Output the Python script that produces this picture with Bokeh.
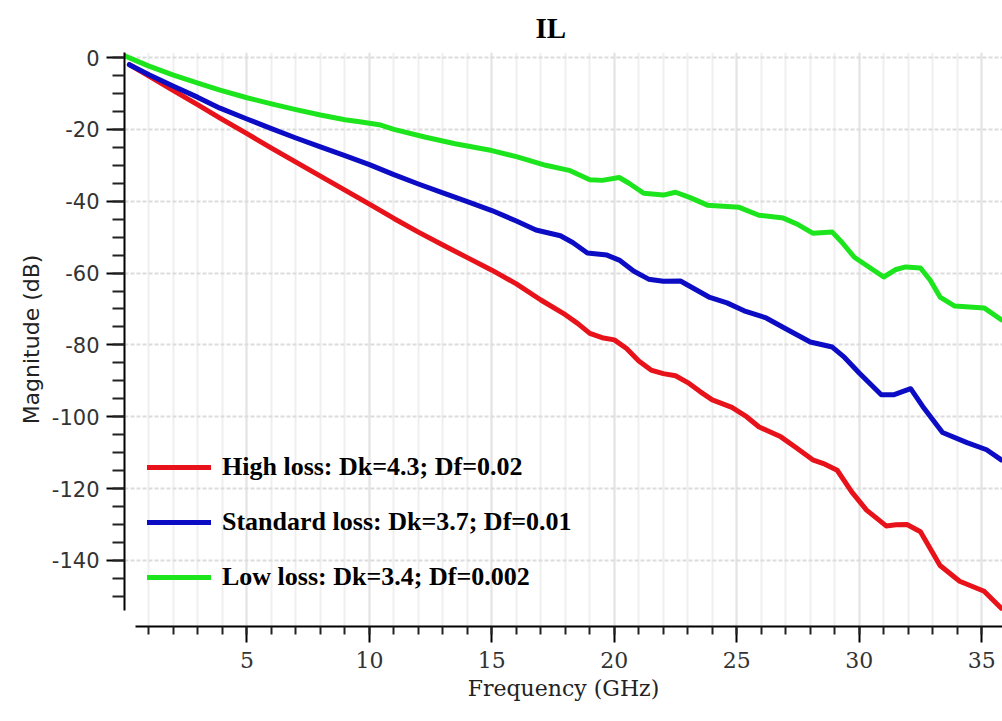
from bokeh.plotting import figure
from bokeh.models import Range1d, SingleIntervalTicker, Legend, LegendItem, PrintfTickFormatter
from bokeh.embed import file_html
from bokeh.resources import INLINE

# ---------------- data ----------------
high_f = [0.2, 1, 2, 3, 3.9, 5, 6, 7, 8, 9, 10, 11, 12, 13, 14, 15, 16, 17, 18,
          18.5, 19, 19.5, 20, 20.5, 21, 21.5, 22, 22.5, 23, 23.5, 24, 24.8, 25.4,
          25.9, 26.8, 27.4, 28.1, 28.6, 29.1, 29.7, 30.3, 31.1, 31.5, 31.95, 32.5,
          33.3, 34.1, 35.1, 35.8]
high_db = [-2, -5.2, -9.2, -13.2, -16.9, -21.2, -25.2, -29.1, -33.0, -36.9, -40.8,
           -44.8, -48.6, -52.2, -55.7, -59.2, -63, -67.5, -71.6, -74, -76.8, -78,
           -78.6, -81, -84.5, -87, -88, -88.6, -90.5, -93, -95.3, -97.4, -100, -102.8,
           -105.6, -108.5, -112, -113.2, -114.9, -121, -126, -130.4, -130.1, -130,
           -132, -141.4, -145.8, -148.6, -153.3]

std_f = [0.2, 1, 2, 3, 3.9, 5, 6, 7, 8, 9, 10, 11, 12, 13, 14, 15, 16, 16.8, 17.8,
         18.3, 18.9, 19.7, 20.2, 20.8, 21.4, 22.0, 22.7, 23.3, 23.9, 24.6, 25.3, 26.2,
         27.0, 28.0, 28.9, 29.4, 30.0, 30.9, 31.4, 32.1, 32.6, 33.4, 34.4, 35.2, 35.8]
std_db = [-2, -4.8, -8.0, -11.1, -14.1, -17.1, -19.8, -22.4, -24.9, -27.3, -29.8,
          -32.6, -35.2, -37.7, -40.1, -42.6, -45.5, -48, -49.6, -51.5, -54.4, -55,
          -56.4, -59.5, -61.7, -62.3, -62.2, -64.5, -66.8, -68.3, -70.5, -72.5, -75.5,
          -79.2, -80.6, -83.5, -87.8, -93.9, -93.9, -92.2, -97.2, -104.4, -107.2,
          -109.2, -112]

low_f = [0.0, 1, 2, 3, 3.9, 5, 6, 7, 8, 9, 9.6, 10.4, 11, 12.3, 13.5, 15.0, 16, 17.2,
         18.2, 19.0, 19.5, 20.2, 20.6, 21.2, 22.0, 22.5, 23.1, 23.8, 25.1, 25.9, 26.9,
         27.5, 28.1, 28.9, 29.3, 29.8, 31.0, 31.5, 31.9, 32.5, 32.9, 33.3, 33.9, 35.1,
         35.8]
low_db = [0.5, -2.4, -4.9, -7.1, -9.1, -11.2, -12.9, -14.5, -16, -17.3, -17.9, -18.7,
          -20, -22.2, -24, -25.9, -27.6, -30, -31.5, -34, -34.2, -33.4, -35, -37.8,
          -38.3, -37.5, -39, -41.1, -41.7, -43.9, -44.7, -46.5, -48.9, -48.6, -51.5,
          -55.6, -61.1, -59, -58.3, -58.6, -62, -66.7, -69.2, -69.7, -73]

series_labels = ["High loss: Dk=4.3; Df=0.02",
                 "Standard loss: Dk=3.7; Df=0.01",
                 "Low loss: Dk=3.4; Df=0.002"]
series_colors = ["#e8121a", "#0c0cc4", "#1de51d"]

# ---------------- figure ----------------
p = figure(width=1002, height=713, output_backend="svg", toolbar_location=None,
           x_range=Range1d(0, 35.85), y_range=Range1d(-158.4, 1.4),
           min_border_left=124, min_border_right=0, min_border_top=52,
           min_border_bottom=87, title="IL")
p.outline_line_color = None
p.background_fill_color = "white"

p.title.text_font = "Liberation Serif"
p.title.text_font_style = "bold"
p.title.text_font_size = "29px"
p.title.text_line_height = 1.0
p.title.align = "left"
p.title.offset = 411
p.title.standoff = 17
p.title.text_color = "black"

# axes
p.xaxis.ticker = SingleIntervalTicker(interval=5, num_minor_ticks=5)
p.yaxis.ticker = SingleIntervalTicker(interval=20, num_minor_ticks=4)
p.yaxis.formatter = PrintfTickFormatter(format="%d")
p.xaxis.bounds = (0.45, 35.85)
p.yaxis.bounds = (-154, 1.4)

for ax in (p.xaxis[0], p.yaxis[0]):
    ax.axis_line_color = "black"
    ax.axis_line_width = 2
    ax.major_tick_line_color = "black"
    ax.major_tick_line_width = 2
    ax.minor_tick_line_color = "#222222"
    ax.minor_tick_line_width = 2
    ax.major_tick_in = 0
    ax.minor_tick_in = 0
    ax.axis_label_text_font_style = "normal"

p.xaxis.major_tick_out = 16
p.xaxis.minor_tick_out = 8
p.xaxis.major_label_standoff = 9
p.xaxis.major_label_text_font = "DejaVu Serif"
p.xaxis.major_label_text_font_size = "22px"
p.xaxis.major_label_text_color = "#333333"
p.xaxis.axis_label = "Frequency (GHz)"
p.xaxis.axis_label_text_font = "DejaVu Serif"
p.xaxis.axis_label_text_font_size = "22px"
p.xaxis.axis_label_text_color = "#222222"
p.xaxis.axis_label_standoff = 5

p.yaxis.major_tick_out = 18
p.yaxis.minor_tick_out = 12
p.yaxis.major_label_standoff = 7
p.yaxis.major_label_text_font = "DejaVu Sans"
p.yaxis.major_label_text_font_size = "21px"
p.yaxis.major_label_text_color = "#333333"
p.yaxis.axis_label = "Magnitude (dB)"
p.yaxis.axis_label_text_font = "DejaVu Sans"
p.yaxis.axis_label_text_font_size = "22px"
p.yaxis.axis_label_text_color = "#222222"
p.yaxis.axis_label_standoff = 5

# grid
p.xgrid.grid_line_color = "#e4e4e4"
p.xgrid.grid_line_width = 2
p.xgrid.minor_grid_line_color = "#efefef"
p.xgrid.minor_grid_line_width = 2
p.ygrid.grid_line_color = "#dcdcdc"
p.ygrid.grid_line_width = 2
p.ygrid.grid_line_dash = "4 2"

# lines
r_high = p.line(high_f, high_db, line_color=series_colors[0], line_width=5,
                line_join="round", line_cap="round")
r_std = p.line(std_f, std_db, line_color=series_colors[1], line_width=5,
               line_join="round", line_cap="round")
r_low = p.line(low_f, low_db, line_color=series_colors[2], line_width=5,
               line_join="round", line_cap="round")

legend = Legend(items=[LegendItem(label=series_labels[0], renderers=[r_high]),
                       LegendItem(label=series_labels[1], renderers=[r_std]),
                       LegendItem(label=series_labels[2], renderers=[r_low])],
                location=(23, 34))
legend.background_fill_alpha = 0
legend.border_line_color = None
legend.padding = 0
legend.margin = 0
legend.glyph_width = 64
legend.glyph_height = 30
legend.label_height = 30
legend.spacing = 25
legend.label_standoff = 11
legend.label_text_font = "Liberation Serif"
legend.label_text_font_style = "bold"
legend.label_text_font_size = "26px"
legend.label_text_color = "black"
legend.label_text_baseline = "middle"
p.add_layout(legend, "center")

open("out.html", "w").write(file_html(p, INLINE))
